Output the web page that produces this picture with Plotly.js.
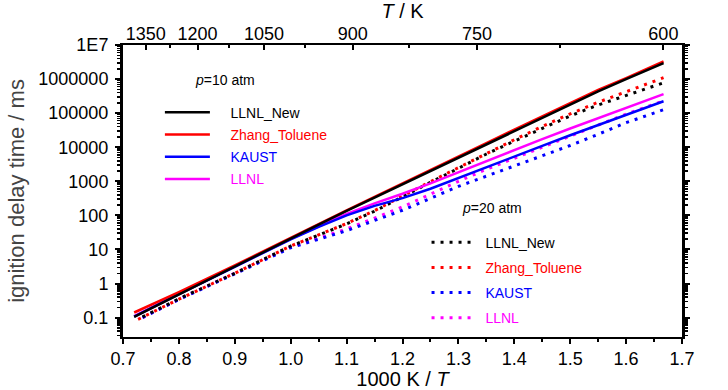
<!DOCTYPE html>
<html>
<head>
<meta charset="utf-8">
<script src="https://cdn.plot.ly/plotly-3.0.1.min.js"></script>
<style>html,body{margin:0;padding:0;background:#fff}#chart{width:728px;height:390px}</style>
</head>
<body>
<div id="chart"></div>
<script>
// 1000 K / T values
const xSolid = [0.72, 0.8, 0.9, 1.0, 1.05, 1.1, 1.15, 1.2, 1.25, 1.3, 1.35, 1.4, 1.45, 1.5, 1.55, 1.6, 1.667];
const xDotBlack = [0.735, 0.8, 0.9, 1.0, 1.05, 1.1, 1.15, 1.2, 1.25, 1.3, 1.35, 1.4, 1.45, 1.5, 1.55, 1.6, 1.667];
const xDotRed = [0.727, 0.8, 0.9, 1.0, 1.05, 1.1, 1.15, 1.2, 1.25, 1.3, 1.35, 1.4, 1.45, 1.5, 1.55, 1.6, 1.667];

// p = 10 atm (ms)
const llnlNew10 = [0.105, 0.479, 3.16, 21.9, 53.7, 135, 331, 832, 2042, 5012, 12590, 30900, 75900, 182000, 436500, 1000000, 2950000];
const zhang10   = [0.141, 0.562, 3.39, 22.4, 56.2, 141, 347, 851, 2138, 5248, 13180, 33110, 81280, 199500, 478600, 1072000, 3311000];
const kaust10   = [0.107, 0.490, 3.09, 19.8, 46.0, 100, 190, 320, 603, 1259, 2630, 5248, 10960, 22390, 44670, 91200, 223900];
const llnl10    = [0.110, 0.501, 3.16, 20.5, 48.0, 110, 225, 430, 871, 1862, 3981, 8318, 17380, 35480, 70790, 141300, 363100];

// p = 20 atm (ms)
const llnlNew20 = [0.105, 0.355, 2.0, 12.6, 26.3, 56.2, 132, 355, 933, 2399, 6310, 15140, 36310, 83180, 173800, 331100, 776200];
const zhang20   = [0.089, 0.347, 2.0, 12.6, 26.9, 57.5, 138, 372, 977, 2512, 6607, 16600, 40740, 95500, 208900, 416900, 1096000];
const kaust20   = [0.100, 0.339, 1.91, 11.2, 20.0, 35.5, 70.8, 141, 316, 708, 1413, 2818, 5623, 11220, 23990, 52480, 125900];
const llnl20    = [0.100, 0.347, 2.0, 12.0, 21.4, 39.8, 83.2, 178, 417, 1000, 2239, 4786, 10000, 21380, 44670, 93330, 229100];

const seriesNames = ['LLNL_New', 'Zhang_Toluene', 'KAUST', 'LLNL'];
const seriesColors = ['#000000', '#ff0000', '#0000ff', '#ff00ff'];

const yTickVals = [0.1, 1, 10, 100, 1000, 10000, 100000, 1000000, 10000000];
const yTickText = ['0.1', '1', '10', '100', '1000', '10000', '100000', '1000000', '1E7'];
const topTemps = [1350, 1200, 1050, 900, 750, 600];
const topMinorTemps = [1275, 1125, 975, 825, 675];

const FONT = '"Liberation Sans", Arial, sans-serif';

function lbl(name, color, pad) {
  return '<span style="color:' + color + '">' + pad + name + '</span>';
}

const traces = [];
const dotData = [
  [xDotBlack, llnl20, 3],
  [xDotBlack, kaust20, 2],
  [xDotRed, zhang20, 1],
  [xDotBlack, llnlNew20, 0]
];
dotData.forEach(d => {
  const i = d[2];
  traces.push({
    x: d[0], y: d[1], type: 'scatter', mode: 'lines', xaxis: 'x', yaxis: 'y',
    name: lbl(seriesNames[i], seriesColors[i], '\u00a0'),
    legendgroup: 'd' + i, legendrank: i + 1,
    line: {color: seriesColors[i], width: 3, dash: '3px,6px'},
    legend: 'legend2'
  });
});
const solidData = [
  [llnl10, 3],
  [kaust10, 2],
  [zhang10, 1],
  [llnlNew10, 0]
];
solidData.forEach(d => {
  const i = d[1];
  traces.push({
    x: xSolid, y: d[0], type: 'scatter', mode: 'lines', xaxis: 'x2', yaxis: 'y',
    name: lbl(seriesNames[i], seriesColors[i], '\u00a0\u00a0\u00a0\u00a0'),
    legendgroup: 's' + i, legendrank: i + 1,
    line: {color: seriesColors[i], width: 2.5},
    legend: 'legend'
  });
});

const yMinor = [];
for (let e = -2; e < 7; e++) {
  for (let m = 2; m <= 9; m++) yMinor.push(m * Math.pow(10, e));
}

const layout = {
  width: 728, height: 390,
  margin: {l: 123, r: 46, t: 45, b: 53},
  paper_bgcolor: '#fff', plot_bgcolor: '#fff',
  font: {family: FONT, size: 18, color: '#000'},
  showlegend: true,
  xaxis: {
    range: [0.7, 1.7], tickmode: 'linear', tick0: 0.7, dtick: 0.1, tickformat: '.1f',
    ticks: 'outside', ticklen: 5, tickwidth: 2, tickcolor: '#000',
    showline: true, linewidth: 2, linecolor: '#000', showgrid: false, zeroline: false,
    minor: {tickmode: 'linear', tick0: 0.75, dtick: 0.1, ticks: 'outside', ticklen: 3, tickwidth: 2, tickcolor: '#000', showgrid: false},
    tickfont: {family: FONT, size: 18, color: '#000'},
    ticklabelstandoff: -1,
    title: {text: '1000 K / <i>T</i>', font: {family: FONT, size: 20, color: '#000'}, standoff: 0}
  },
  xaxis2: {
    overlaying: 'x', side: 'top', anchor: 'y',
    range: [0.7, 1.7], tickmode: 'array',
    tickvals: topTemps.map(t => 1000 / t), ticktext: topTemps.map(String),
    ticks: 'inside', ticklen: 5, tickwidth: 2, tickcolor: '#000',
    showline: true, linewidth: 2, linecolor: '#000', showgrid: false, zeroline: false,
    minor: {tickmode: 'array', tickvals: topMinorTemps.map(t => 1000 / t), ticks: 'inside', ticklen: 3, tickwidth: 2, tickcolor: '#000', showgrid: false},
    tickfont: {family: FONT, size: 18, color: '#000'},
    ticklabelstandoff: -4,
    title: {text: '<i>T</i> / K', font: {family: FONT, size: 20, color: '#000'}, standoff: 0}
  },
  yaxis: {
    type: 'log', range: [-1.57, 7],
    tickmode: 'array', tickvals: yTickVals, ticktext: yTickText,
    ticks: 'outside', ticklen: 5, tickwidth: 2, tickcolor: '#000',
    showline: true, linewidth: 3, linecolor: '#000', mirror: 'ticks', showgrid: false, zeroline: false,
    minor: {tickmode: 'array', tickvals: yMinor, ticks: 'outside', ticklen: 3, tickwidth: 1.5, tickcolor: '#000', showgrid: false},
    tickfont: {family: FONT, size: 18, color: '#000'},
    ticklabelstandoff: 3,
    title: {text: 'ignition delay time / ms', font: {family: FONT, size: 22, color: '#444'}, standoff: 8}
  },
  legend: {
    x: 0.066, y: 0.823, xanchor: 'left', yanchor: 'top',
    bgcolor: 'rgba(0,0,0,0)', borderwidth: 0, traceorder: 'grouped',
    font: {family: FONT, size: 14, color: '#000'}, tracegroupgap: 1,
    itemwidth: 45, itemclick: false
  },
  legend2: {
    x: 0.543, y: 0.378, xanchor: 'left', yanchor: 'top',
    bgcolor: 'rgba(0,0,0,0)', borderwidth: 0, traceorder: 'grouped',
    font: {family: FONT, size: 14, color: '#000'}, tracegroupgap: 4,
    itemwidth: 45, itemclick: false
  },
  annotations: [
    {text: '<i>p</i>=10 atm', xref: 'paper', yref: 'paper', x: 0.182, y: 0.879,
     xanchor: 'center', yanchor: 'middle', showarrow: false,
     font: {family: FONT, size: 14, color: '#000'}},
    {text: '<i>p</i>=20 atm', xref: 'paper', yref: 'paper', x: 0.66, y: 0.443,
     xanchor: 'center', yanchor: 'middle', showarrow: false,
     font: {family: FONT, size: 14, color: '#000'}}
  ]
};

Plotly.newPlot('chart', traces, layout, {staticPlot: true, displayModeBar: false});
</script>
</body>
</html>
